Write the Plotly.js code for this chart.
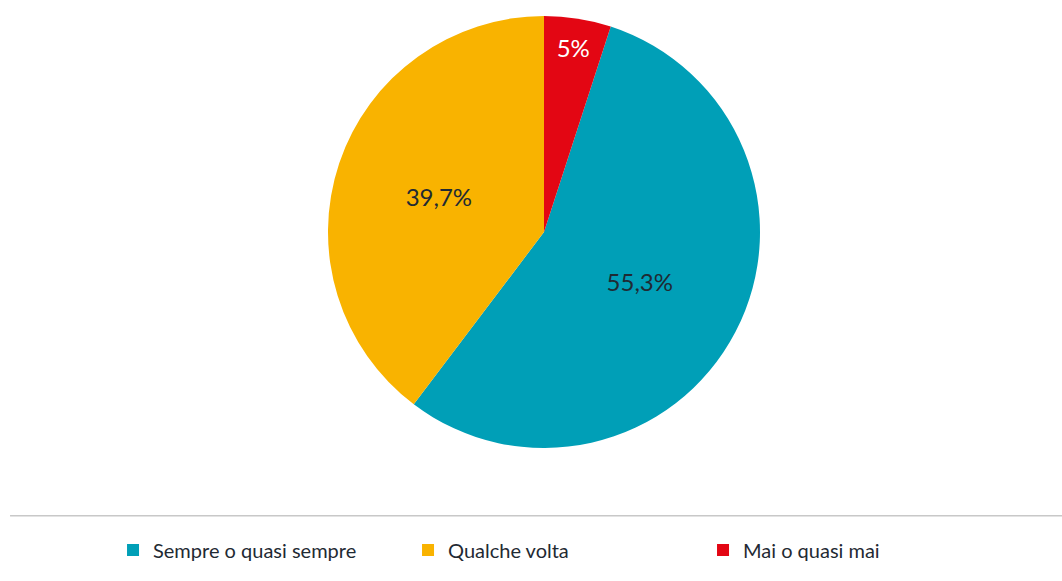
<!DOCTYPE html>
<html>
<head>
<meta charset="utf-8">
<script src="https://cdn.plot.ly/plotly-3.0.1.min.js"></script>
<style>html,body{margin:0;padding:0;background:#fff;}#chart{width:1062px;height:581px;}</style>
</head>
<body>
<div id="chart"></div>
<script>
const categories = ["Sempre o quasi sempre", "Qualche volta", "Mai o quasi mai"];
const values = [55.3, 39.7, 5];
const colors = ["#009FB7", "#F9B300", "#E30613"];
const textColors = ["#1f2a33", "#1f2a33", "#ffffff"];

const trace = {
  type: 'pie',
  labels: categories,
  values: values,
  sort: false,
  direction: 'clockwise',
  rotation: 18,
  marker: {colors: colors, line: {width: 0}},
  texttemplate: '%{value}%',
  textposition: 'inside',
  insidetextorientation: 'horizontal',
  insidetextfont: {family: 'Lato', size: 24, color: textColors},
  hoverinfo: 'label+value',
  showlegend: true
};

const layout = {
  width: 1062, height: 581,
  margin: {l: 26, r: 0, t: 16, b: 133},
  paper_bgcolor: '#ffffff',
  separators: ',.',
  font: {family: 'Lato', color: '#1f2a33'},
  legend: {
    orientation: 'h',
    traceorder: 'normal',
    x: 0.084, xanchor: 'left',
    y: -0.236, yanchor: 'middle',
    entrywidth: 250,
    font: {family: 'Lato', size: 20, color: '#1f2a33'}
  },
  shapes: [{
    type: 'line', xref: 'paper', yref: 'paper',
    x0: -0.0154, x1: 1, y0: -0.157, y1: -0.157,
    line: {color: '#c8c8c8', width: 1.5}
  }]
};

Plotly.newPlot('chart', [trace], layout, {displayModeBar: false});
</script>
</body>
</html>
